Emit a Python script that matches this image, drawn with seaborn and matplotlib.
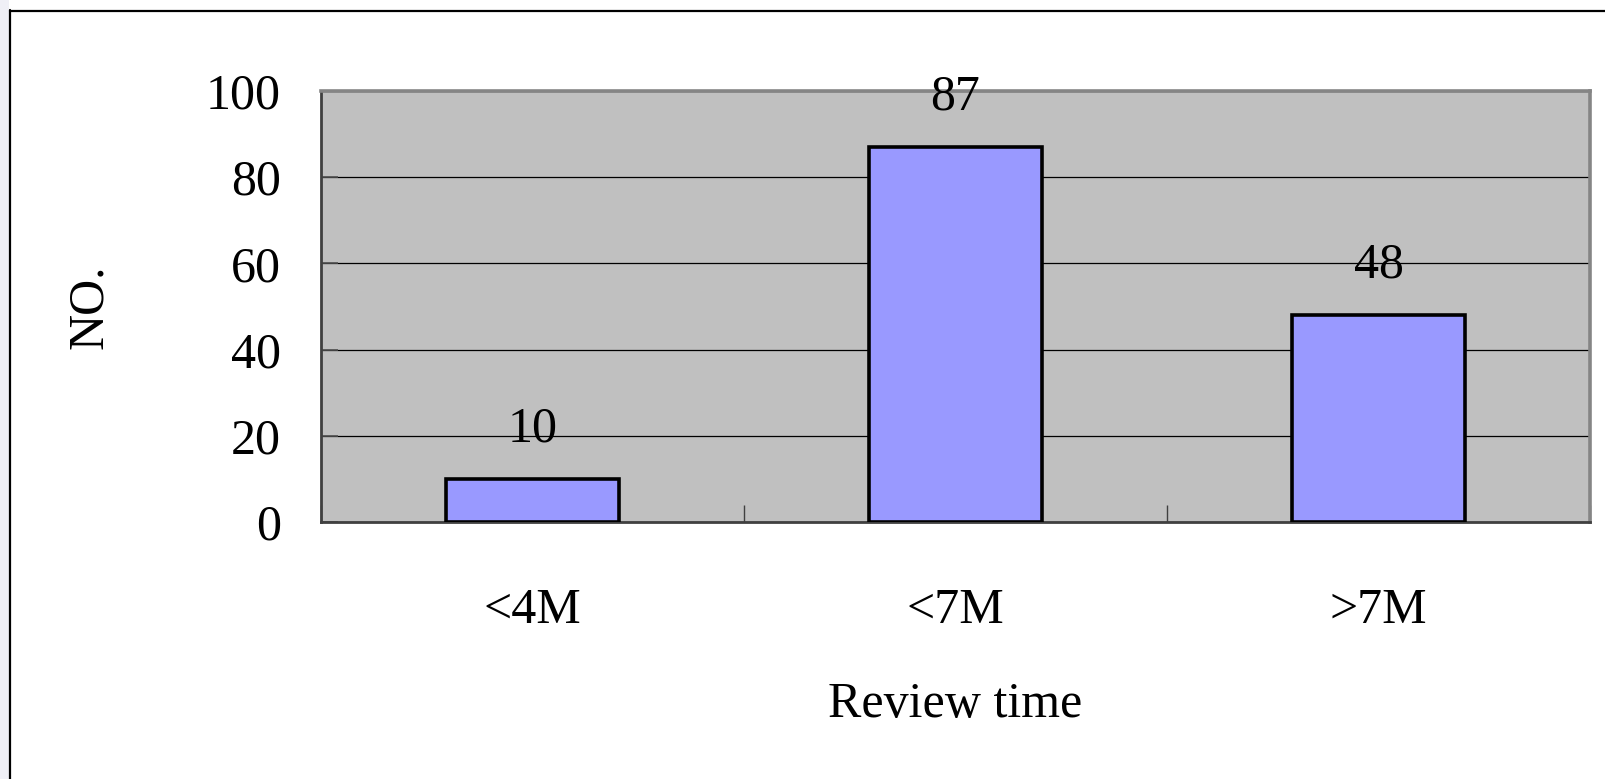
import matplotlib
matplotlib.use("Agg")
import matplotlib.pyplot as plt
import seaborn as sns
import pandas as pd
from matplotlib.patches import Rectangle
from matplotlib.lines import Line2D

# Data
categories = ["<4M", "<7M", ">7M"]
counts = [10, 87, 48]
y_ticks = [0, 20, 40, 60, 80, 100]

sns.set_theme(style="white")
plt.rcParams["font.family"] = ["Liberation Serif", "DejaVu Serif"]
plt.rcParams.update({"text.color": "black", "axes.labelcolor": "black",
                     "xtick.color": "black", "ytick.color": "black"})

df = pd.DataFrame({"Review time": categories, "NO.": counts})

W, H, DPI = 1605, 779, 100
fig = plt.figure(figsize=(W / DPI, H / DPI), dpi=DPI, facecolor="white")

# Outer frame: light strip on the left and a black border line
fig.patches.append(Rectangle((0, 0), 9 / W, 1, transform=fig.transFigure,
                             facecolor="#EFEFF6", edgecolor="none", zorder=0))
fig.lines.append(Line2D([9.5 / W, 9.5 / W], [0, 1 - 10 / H], transform=fig.transFigure,
                        color="black", lw=1.6))
fig.lines.append(Line2D([9.5 / W, 1], [1 - 10.5 / H, 1 - 10.5 / H], transform=fig.transFigure,
                        color="black", lw=1.6))

left, right, top, bottom = 321 / W, 1590 / W, 1 - 91 / H, 1 - 522 / H
ax = fig.add_axes([left, bottom, right - left, top - bottom])
ax.set_facecolor("#C0C0C0")

sns.barplot(data=df, x="Review time", y="NO.", ax=ax, color="#9999FF",
            saturation=1, width=0.41, edgecolor="black", linewidth=2.6, zorder=3)

ax.set_xlim(-0.5, 2.5)
ax.set_ylim(0, 100)
ax.set_yticks(y_ticks)
ax.set_yticklabels([str(t) for t in y_ticks])
ax.yaxis.grid(True, color="black", lw=0.9, zorder=1)
ax.set_axisbelow(True)

# Category boundary ticks, labels centred on the bars
ax.set_xticks([-0.5, 0.5, 1.5, 2.5])
ax.set_xticklabels([])
ax.set_xticks([0, 1, 2], minor=True)
ax.set_xticklabels(categories, minor=True)
ax.tick_params(axis="x", which="major", bottom=True, direction="in", length=12,
               width=1, color="#404040")
ax.tick_params(axis="x", which="minor", bottom=True, length=0, pad=47, labelsize=36,
               labelcolor="black")
ax.tick_params(axis="y", left=True, direction="in", length=12, width=1.2, color="#505050",
               pad=29, labelsize=36, labelcolor="black")

for s in ("left", "bottom"):
    ax.spines[s].set_color("#404040")
    ax.spines[s].set_linewidth(2)
for s in ("top", "right"):
    ax.spines[s].set_color("#858585")
    ax.spines[s].set_linewidth(2.6)

ax.bar_label(ax.containers[0], labels=[str(v) for v in counts], padding=19,
             fontsize=36, color="black")

ax.set_xlabel("Review time", fontsize=36, color="black")
ax.xaxis.label.set_va("center")
ax.xaxis.set_label_coords(0.5, -(705 - 522) / (522 - 91))
ax.set_ylabel("NO.", fontsize=36, color="black")
ax.yaxis.label.set_va("center")
ax.yaxis.set_label_coords(-(321 - 90) / (1590 - 321), 0.5)

fig.savefig("out.png", dpi=DPI, facecolor="white")
